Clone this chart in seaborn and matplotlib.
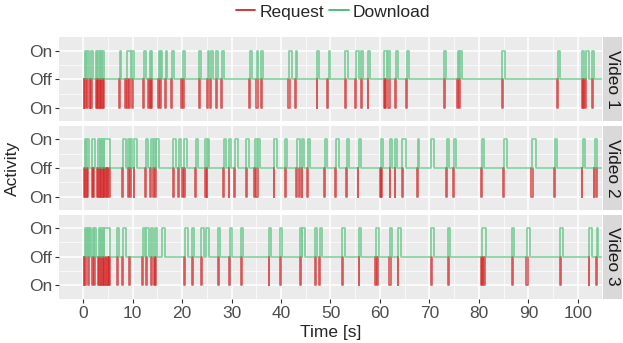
import pandas as pd
import matplotlib
matplotlib.use('Agg')
import matplotlib.pyplot as plt
from matplotlib.lines import Line2D
from matplotlib.ticker import MultipleLocator
import seaborn as sns

# Zeiten in Sekunden, jeweils (Start, Ende) eines Pulses
videos = ['Video 1', 'Video 2', 'Video 3']
session_end = 104.9

v1_download = [(0.4, 0.6), (0.8, 1.15), (1.5, 1.9), (2.5, 2.8), (2.9, 3.3), (3.4, 3.7), (3.8, 4.1),
               (7.4, 7.65), (8.75, 9.75), (9.95, 10.2), (12.2, 12.6), (13.4, 13.7), (13.75, 14.0),
               (15.3, 15.6), (15.65, 15.9), (16.7, 17.0), (17.9, 18.4), (20.2, 20.5), (23.5, 23.9),
               (25.2, 25.5), (25.8, 26.3), (26.8, 27.2), (28.0, 28.5), (33.7, 34.1), (35.1, 35.4),
               (35.9, 36.4), (41.7, 42.2), (43.1, 43.3), (47.3, 47.6), (49.6, 50.0), (52.9, 53.5),
               (55.2, 55.7), (56.25, 56.65), (57.5, 57.9), (60.9, 61.35), (61.7, 62.1), (63.2, 63.6),
               (65.4, 65.9), (73.0, 73.3), (75.7, 76.0), (76.1, 76.55), (84.7, 85.2), (96.0, 96.5),
               (100.9, 101.3), (101.7, 102.2), (102.9, 103.2)]
v1_request = [(0.06, 0.2), (0.35, 0.5), (0.74, 0.95), (1.28, 1.45), (1.6, 1.78), (2.5, 2.7), (2.75, 3.0),
              (3.05, 3.3), (3.35, 3.6), (3.65, 3.9), (3.95, 4.17), (7.3, 7.5), (8.5, 8.7), (8.85, 9.05),
              (9.2, 9.4), (9.8, 10.0), (12.1, 12.2), (13.1, 13.3), (13.45, 13.65), (13.7, 13.9),
              (15.1, 15.3), (15.45, 15.65), (16.6, 16.8), (17.7, 17.85), (19.8, 20.0), (20.1, 20.3),
              (23.4, 23.55), (25.1, 25.25), (25.6, 25.85), (26.8, 26.95), (27.9, 28.1), (33.5, 33.7),
              (35.0, 35.25), (35.9, 36.05), (41.5, 41.75), (42.9, 43.1), (47.2, 47.35), (49.3, 49.55),
              (52.9, 53.1), (55.0, 55.2), (56.25, 56.4), (57.5, 57.65), (60.8, 61.0), (61.1, 61.3),
              (61.7, 61.95), (63.1, 63.3), (65.3, 65.45), (73.0, 73.15), (75.6, 75.8), (75.9, 76.1),
              (84.6, 84.8), (95.9, 96.1), (100.8, 101.0), (101.1, 101.3), (101.5, 101.7), (102.8, 103.1)]

v2_download = [(0.4, 0.6), (0.75, 1.15), (1.8, 2.35), (3.0, 3.3), (3.4, 3.7), (3.8, 4.1), (4.1, 5.45),
               (7.95, 8.55), (9.15, 9.5), (9.55, 9.9), (10.35, 10.9), (12.6, 13.05), (13.7, 14.15),
               (14.4, 14.65), (14.8, 15.25), (18.2, 18.7), (19.35, 19.7), (20.4, 21.0), (22.8, 23.25),
               (24.7, 25.1), (25.15, 25.5), (28.4, 28.8), (29.5, 29.9), (30.7, 31.2), (33.0, 33.5),
               (34.7, 35.2), (35.3, 35.75), (38.6, 39.1), (40.9, 41.3), (43.2, 43.8), (44.15, 44.6),
               (45.4, 45.9), (48.85, 49.3), (51.1, 51.7), (53.3, 53.8), (55.7, 56.1), (60.15, 60.7),
               (62.1, 62.5), (63.1, 63.4), (64.5, 65.2), (67.6, 67.9), (70.4, 70.9), (73.5, 73.9),
               (74.9, 75.3), (80.6, 81.05), (85.15, 85.75), (90.8, 91.5), (95.3, 95.9), (101.0, 101.4),
               (103.4, 103.8)]
v2_request = [(0.06, 0.3), (0.4, 0.7), (0.75, 1.0), (1.7, 1.95), (2.0, 2.2), (2.75, 3.0), (3.05, 3.3),
              (3.35, 3.6), (3.65, 3.9), (3.95, 4.2), (4.25, 4.5), (4.55, 4.8), (4.85, 5.1), (5.15, 5.44),
              (7.87, 8.1), (9.07, 9.3), (9.45, 9.7), (10.2, 10.35), (12.5, 12.65), (13.6, 13.8),
              (14.2, 14.4), (14.5, 14.8), (18.1, 18.3), (19.2, 19.4), (20.0, 20.2), (20.35, 20.55),
              (22.65, 22.85), (24.7, 24.9), (24.95, 25.1), (28.3, 28.5), (29.4, 29.55), (30.5, 30.7),
              (32.9, 33.05), (34.5, 34.7), (34.9, 35.3), (38.5, 38.65), (40.8, 41.0), (43.0, 43.3),
              (43.55, 43.75), (44.15, 44.3), (45.3, 45.5), (48.7, 48.85), (50.9, 51.1), (53.2, 53.35),
              (55.5, 55.65), (60.0, 60.2), (60.3, 60.5), (61.96, 62.1), (62.97, 63.1), (64.5, 64.65),
              (67.5, 67.65), (73.45, 73.65), (74.8, 74.95), (80.4, 80.6), (84.8, 85.0), (90.6, 91.0),
              (95.2, 95.35), (100.8, 100.95), (103.2, 103.35), (103.7, 103.85)]

v3_download = [(0.4, 0.6), (0.7, 0.9), (0.95, 1.15), (1.4, 1.6), (1.88, 2.1), (2.2, 2.55), (3.1, 3.4),
               (3.5, 3.8), (3.9, 4.2), (4.25, 5.5), (6.92, 7.26), (8.13, 8.67), (12.03, 12.5),
               (12.7, 13.2), (13.65, 14.05), (14.45, 14.9), (15.93, 16.6), (20.6, 21.1), (22.05, 22.3),
               (23.86, 24.5), (24.9, 25.35), (27.2, 27.6), (29.6, 30.1), (31.9, 32.3), (37.5, 37.97),
               (39.8, 40.26), (43.9, 44.2), (44.3, 44.9), (46.9, 47.2), (47.8, 48.25), (52.3, 52.9),
               (55.7, 56.2), (59.1, 59.8), (62.1, 62.4), (63.6, 64.2), (70.4, 70.9), (73.8, 74.1),
               (80.6, 81.4), (86.75, 87.1), (89.8, 90.3), (96.5, 97.0), (102.2, 102.8), (103.8, 104.1)]
v3_request = [(0.06, 0.25), (0.3, 0.47), (1.0, 1.2), (1.74, 2.0), (2.1, 2.35), (2.9, 3.2), (3.25, 3.55),
              (3.6, 3.9), (3.95, 4.25), (4.3, 4.6), (4.65, 4.95), (5.0, 5.25), (5.3, 5.5), (6.79, 7.0),
              (7.93, 8.1), (9.2, 9.5), (11.9, 12.15), (12.6, 12.85), (13.65, 13.85), (14.3, 14.5),
              (14.6, 14.8), (20.3, 20.6), (21.9, 22.1), (23.8, 24.05), (27.2, 27.45), (29.4, 29.7),
              (31.9, 32.15), (37.5, 37.65), (39.7, 40.0), (43.8, 44.1), (46.8, 47.05), (47.65, 47.9),
              (52.3, 52.45), (55.7, 55.85), (59.0, 59.1), (59.5, 59.6), (61.9, 62.2), (63.6, 63.75),
              (70.4, 70.55), (73.8, 73.95), (80.4, 80.6), (80.65, 80.9), (80.95, 81.2), (86.7, 86.85),
              (89.6, 89.85), (96.4, 96.55), (102.2, 102.35), (103.7, 103.9)]

downloads = [v1_download, v2_download, v3_download]
requests = [v1_request, v2_request, v3_request]

# Ebenen: Download an = 1, aus = 0, Request an = -1
y_ticks = [1, 0, -1]
y_labels = ['On', 'Off', 'On']
x_ticks = list(range(0, 101, 10))

RED = '#d42525'
GREEN = '#3dbb6c'


def pulse_frame(pulses, level, continuous):
    rows = []
    if continuous:
        rows.append((0, pulses[0][0], 0))
    for i, (s, e) in enumerate(pulses):
        u = 0 if continuous else i
        rows += [(u, s, 0), (u, s, level), (u, e, level), (u, e, 0)]
    if continuous:
        rows.append((0, session_end, 0))
    return pd.DataFrame(rows, columns=['pulse', 'time', 'level'])


sns.set_theme(style='darkgrid', rc={'axes.facecolor': '#EBEBEB', 'grid.color': 'white'})
plt.rcParams['font.family'] = ['Liberation Sans', 'DejaVu Sans']

fig, axes = plt.subplots(3, 1, figsize=(6.23, 3.43), dpi=100, sharex=True)
fig.subplots_adjust(left=59 / 623, right=602 / 623, top=1 - 37.3 / 343, bottom=1 - 298.7 / 343, hspace=0.056)

for k, ax in enumerate(axes):
    req = pulse_frame(requests[k], -1, False)
    dl = pulse_frame(downloads[k], 1, True)
    sns.lineplot(data=req, x='time', y='level', units='pulse', estimator=None, sort=False,
                 color=RED, alpha=0.75, linewidth=1.2, ax=ax)
    sns.lineplot(data=dl, x='time', y='level', units='pulse', estimator=None, sort=False,
                 color=GREEN, alpha=0.65, linewidth=1.2, ax=ax)

    ax.set_xlim(-4.9, 104.9)
    ax.set_ylim(-1.47, 1.47)
    ax.set_yticks(y_ticks)
    ax.set_yticklabels(y_labels)
    ax.yaxis.set_minor_locator(MultipleLocator(0.5))
    ax.set_xticks(x_ticks)
    ax.xaxis.set_minor_locator(MultipleLocator(5))
    ax.grid(which='major', color='white', linewidth=1.1)
    ax.grid(which='minor', color='white', linewidth=0.5)
    ax.set_xlabel('')
    ax.set_ylabel('')
    ax.tick_params(axis='both', which='major', labelsize=12.5, labelcolor='#4D4D4D',
                   length=3, width=0.8, color='#333333', pad=2, bottom=(k == 2), left=True)
    ax.tick_params(which='minor', length=0)
    for sp in ax.spines.values():
        sp.set_visible(False)

    # Facettenstreifen rechts
    pos = ax.get_position()
    strip = fig.add_axes([603 / 623, pos.y0, 19 / 623, pos.height])
    strip.set_facecolor('#D9D9D9')
    strip.set_xticks([])
    strip.set_yticks([])
    strip.grid(False)
    for sp in strip.spines.values():
        sp.set_visible(False)
    strip.text(0.5, 0.5, videos[k], rotation=270, ha='center', va='center',
               fontsize=12.5, color='#1A1A1A', transform=strip.transAxes)

fig.text(330.5 / 623, 1 - 333 / 343, 'Time [s]', ha='center', va='center', fontsize=12.5)
fig.text(12 / 623, 1 - 168 / 343, 'Activity', ha='center', va='center', rotation=90, fontsize=12.5)

handles = [Line2D([], [], color=RED, linewidth=1.3), Line2D([], [], color=GREEN, linewidth=1.3)]
fig.legend(handles, ['Request', 'Download'], loc='center', bbox_to_anchor=(0.535, 1 - 12 / 343),
           ncol=2, frameon=False, fontsize=12.5, handlelength=1.1, handletextpad=0.25, columnspacing=0.3)

plt.savefig('out.png', dpi=100)
